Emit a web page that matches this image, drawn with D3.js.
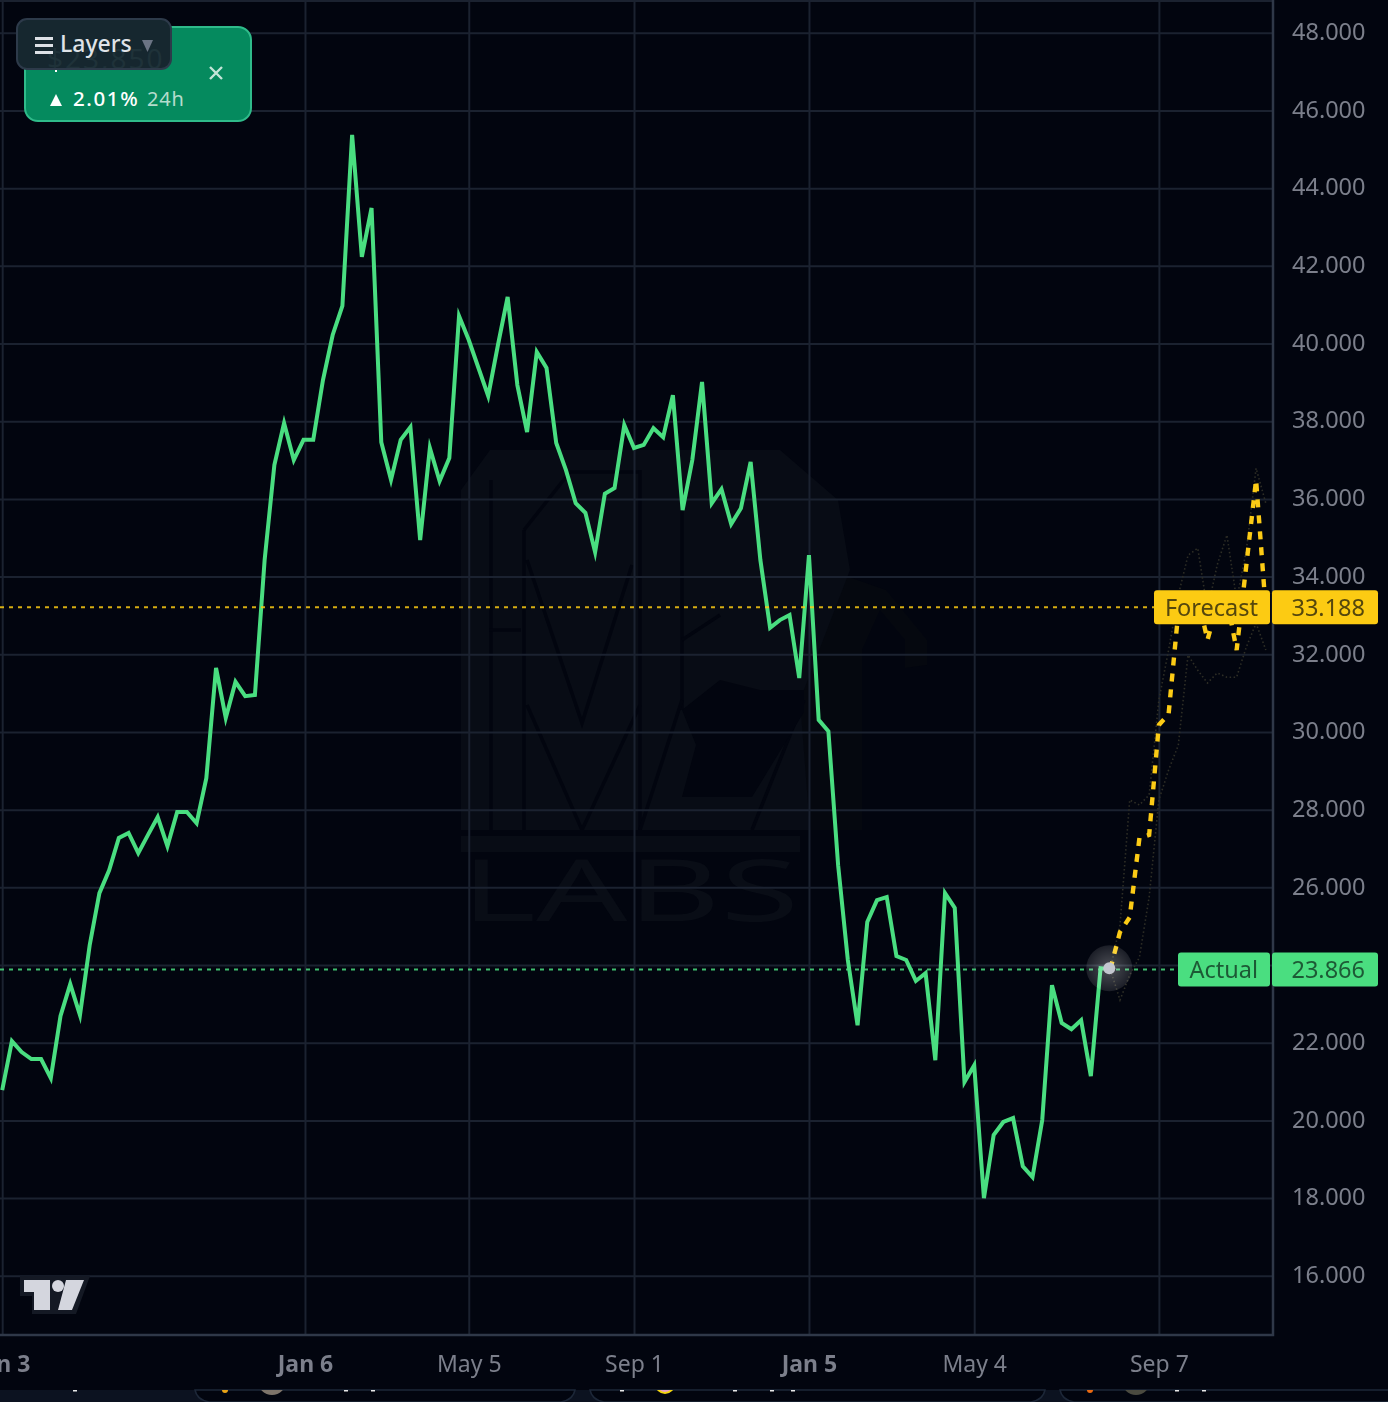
<!DOCTYPE html>
<html><head><meta charset="utf-8">
<script src="https://cdn.jsdelivr.net/npm/d3@7"></script>
<style>
html,body{margin:0;padding:0;background:#02050f;overflow:hidden}
svg{display:block}
text{font-family:"Noto Sans",sans-serif}
</style></head><body>
<svg id="c" width="1388" height="1402"></svg>
<script>
const actual=[20.76,22.02,21.74,21.56,21.56,21.07,22.67,23.49,22.69,24.49,25.83,26.42,27.25,27.38,26.86,27.33,27.79,27.04,27.92,27.92,27.63,28.79,31.63,30.34,31.27,30.90,30.93,34.41,36.85,37.93,36.98,37.50,37.50,39.04,40.20,40.95,45.35,42.21,43.47,37.44,36.47,37.50,37.83,34.92,37.29,36.44,37.03,40.69,40.07,39.35,38.63,39.94,41.18,38.91,37.70,39.76,39.35,37.42,36.72,35.87,35.62,34.61,36.11,36.26,37.88,37.29,37.37,37.80,37.57,38.65,35.69,36.98,38.99,35.87,36.23,35.33,35.74,36.93,34.41,32.66,32.86,32.99,31.37,34.53,30.29,30.00,26.55,24.11,22.43,25.09,25.65,25.73,24.21,24.11,23.57,23.77,21.53,25.83,25.45,20.97,21.40,17.98,19.60,19.94,20.04,18.80,18.52,19.99,23.46,22.49,22.33,22.56,21.12,23.90,23.87];
const forecast=[23.87,24.83,25.21,27.25,27.33,30.16,30.44,33.07,33.50,33.45,32.35,33.25,33.38,32.09,34.28,36.47,33.12];
const upperBand=[23.87,25.01,28.23,28.10,28.36,30.80,32.09,33.50,34.53,34.71,33.12,34.28,35.05,33.38,34.66,36.77,35.87];
const lowerBand=[23.87,23.08,23.72,24.18,25.73,28.23,29.00,29.64,31.96,31.57,31.24,31.50,31.39,31.39,32.17,32.78,32.09];
const priceTicks=[16,18,20,22,24,26,28,30,32,34,36,38,40,42,44,46,48];
const timeTickWeeks=[0,31.15,48,65,83,100,119];
const timeTickLabels=["Jan 3","Jan 6","May 5","Sep 1","Jan 5","May 4","Sep 7"];
const boldTicks=["Jan 3","Jan 6","Jan 5"];
const forecastPrice=33.188, actualPrice=23.866;
const forecastStart=actual.length-1;

const svg=d3.select("#c");
const x=d3.scaleLinear().domain([0,130]).range([2.2,1265.8]);
const y=d3.scaleLinear().domain([16,48]).range([1275,32]);
const axisX=1273, axisY=1335;
const GRID="#1b2230", AXIS="#2f3848", TICK="#7b7f8b";
const GREEN="#4ade80", YELLOW="#fccb13";

svg.append("rect").attr("width",1388).attr("height",1402).attr("fill","#02050f");
const defs=svg.append("defs");
defs.append("filter").attr("id","soft").append("feGaussianBlur").attr("stdDeviation",0.45);
defs.append("filter").attr("id","softline").attr("filterUnits","userSpaceOnUse").attr("x",0).attr("y",0).attr("width",1388).attr("height",1402)
  .append("feGaussianBlur").attr("stdDeviation",0.5);
const rg=defs.append("radialGradient").attr("id","halo");
rg.append("stop").attr("offset","0%").attr("stop-color","#fff").attr("stop-opacity",.3);
rg.append("stop").attr("offset","100%").attr("stop-color","#fff").attr("stop-opacity",.1);
defs.append("clipPath").attr("id","below").append("rect").attr("x",0).attr("y",1390).attr("width",1388).attr("height",12);
defs.append("clipPath").attr("id","inbtn").append("rect").attr("x",17).attr("y",19).attr("width",154).attr("height",50).attr("rx",10);

// watermark
const wm=svg.append("g");
const W="#080c15", DIM="#05080f";
wm.append("path").attr("fill",DIM).attr("d","M800 560L886 590L927 640V665L905 668L905 640L880 610L862 650L862 830H800Z");
wm.append("path").attr("fill",W).attr("d","M461 830V490L490 450H640L780 450L838 500L850 570L800 700L810 830Z");
const wmLines=["M491 480V830","M524 530V830","M489 630H521","M527 560L582 723L632 565","M527 705L582 830L640 705","M524 530L570 472H640","M640 470V830","M682 500V710","M640 830L682 700","M682 640L720 615","M752 830L804 700"];
wmLines.forEach(d=>wm.append("path").attr("d",d).attr("fill","none").attr("stroke","#02050f").attr("stroke-width",3.5));
wm.append("path").attr("fill","#02050f").attr("d","M682 710L696 745L682 797H752L804 712V690L760 690L720 680Z");
wm.append("path").attr("fill","#02050f").attr("d","M455 830H810V836H455Z");
wm.append("path").attr("fill",W).attr("d","M461 836H800V852H461Z");
wm.append("text").attr("x",461).attr("y",921).attr("font-size",86).attr("font-weight",400).attr("textLength",338).attr("lengthAdjust","spacingAndGlyphs").attr("fill","#090d16").text("LABS");

// grid + axes through d3-axis
const gy=svg.append("g").attr("transform",`translate(${axisX},0)`)
  .call(d3.axisRight(y).tickValues(priceTicks).tickFormat(d3.format(".3f")).tickSize(0).tickPadding(19));
gy.select(".domain").remove();
gy.selectAll("text").attr("font-size",23.5).attr("fill",TICK).attr("filter","url(#soft)");
const gridY=svg.append("g").attr("transform",`translate(${axisX},0.8)`)
  .call(d3.axisLeft(y).tickValues(priceTicks).tickSize(axisX).tickFormat(""));
gridY.select(".domain").remove();
gridY.selectAll("line").attr("stroke",GRID).attr("stroke-width",2);
svg.append("line").attr("x1",0).attr("x2",axisX).attr("y1",1).attr("y2",1).attr("stroke",GRID).attr("stroke-width",2);

const gridX=svg.append("g").attr("transform",`translate(0,${axisY})`)
  .call(d3.axisTop(x).tickValues(timeTickWeeks).tickSize(axisY).tickFormat(""));
gridX.select(".domain").remove();
gridX.selectAll("line").attr("stroke",GRID).attr("stroke-width",2);
const gx=svg.append("g").attr("transform",`translate(0,${axisY})`)
  .call(d3.axisBottom(x).tickValues(timeTickWeeks).tickSize(0).tickPadding(21).tickFormat((d,i)=>timeTickLabels[i]));
gx.select(".domain").remove();
gx.selectAll("text").attr("font-size",23).attr("fill",TICK).attr("filter","url(#soft)")
  .attr("font-weight",(d,i)=>boldTicks.includes(timeTickLabels[i])?700:400);
svg.append("path").attr("fill","none").attr("stroke",AXIS).attr("stroke-width",2.5)
  .attr("d",`M0 ${axisY}H${axisX}V0`);

// series
const ln=d3.line().x(d=>x(d.i)).y(d=>y(d.v));
const toPts=(a,s)=>a.map((v,k)=>({i:s+k,v}));
[upperBand,lowerBand].forEach(b=>svg.append("path").datum(toPts(b,forecastStart))
  .attr("fill","none").attr("stroke","#2e2e26").attr("stroke-width",1.6).attr("stroke-dasharray","1.5 2.5").attr("d",ln));
svg.append("path").datum(toPts(actual,0)).attr("fill","none").attr("stroke",GREEN).attr("stroke-width",4)
  .attr("stroke-linejoin","miter").attr("stroke-miterlimit",6).attr("filter","url(#softline)").attr("d",ln);
svg.append("path").datum(toPts(forecast,forecastStart)).attr("fill","none").attr("stroke",YELLOW).attr("stroke-width",4.4)
  .attr("stroke-dasharray","8 8").attr("filter","url(#softline)").attr("d",ln);

// price lines
svg.append("line").attr("x1",0).attr("x2",1154).attr("y1",y(forecastPrice)).attr("y2",y(forecastPrice))
  .attr("stroke",YELLOW).attr("stroke-width",2).attr("stroke-dasharray","4 5").attr("stroke-opacity",.85);
svg.append("line").attr("x1",0).attr("x2",1178).attr("y1",y(actualPrice)).attr("y2",y(actualPrice))
  .attr("stroke",GREEN).attr("stroke-width",2).attr("stroke-dasharray","4 5").attr("stroke-opacity",.85);

// current point
const lastX=x(forecastStart), lastY=y(actual[forecastStart]);
svg.append("circle").attr("cx",lastX-1).attr("cy",lastY-1).attr("r",23).attr("fill","url(#halo)");
svg.append("circle").attr("cx",lastX-1).attr("cy",lastY-1).attr("r",6).attr("fill","#c3c6cf");

// price labels
function tag(x0,x1,yc,fill,txt,anchorX,ink){
  svg.append("rect").attr("x",x0).attr("y",yc-17).attr("width",x1-x0).attr("height",34).attr("rx",3).attr("fill",fill);
  svg.append("text").attr("x",anchorX).attr("y",yc+8.5).attr("text-anchor","end").attr("font-size",23.5)
    .attr("fill",ink).attr("filter","url(#soft)").text(txt);
}
tag(1154,1270,y(forecastPrice),YELLOW,"Forecast",1258,"#54460a");
tag(1272,1378,y(forecastPrice),YELLOW,d3.format(".3f")(forecastPrice),1365,"#54460a");
tag(1178,1270,y(actualPrice),GREEN,"Actual",1258,"#1e5a36");
tag(1272,1378,y(actualPrice),GREEN,d3.format(".3f")(actualPrice),1365,"#1e5a36");

// ticker card
svg.append("rect").attr("x",25).attr("y",27).attr("width",226).attr("height",94).attr("rx",13)
  .attr("fill","#058a5e").attr("stroke","#2fbb8a").attr("stroke-width",2);
svg.append("path").attr("d","M50 106L56 94L62 106Z").attr("fill","#fff");
svg.append("text").attr("x",73).attr("y",106).attr("font-size",20.5).attr("font-weight",500).attr("letter-spacing",1.6).attr("fill","#fff").text("2.01%");
svg.append("text").attr("x",147).attr("y",106).attr("font-size",20).attr("letter-spacing",.8).attr("fill","#b4dccd").text("24h");
svg.append("path").attr("d","M210 67L222 79M222 67L210 79").attr("stroke","#c3e5d8").attr("stroke-width",2.4).attr("fill","none");
svg.append("rect").attr("x",55).attr("y",66).attr("width",2).attr("height",6).attr("fill","#fff");

// layers button
svg.append("rect").attr("x",17).attr("y",19).attr("width",154).attr("height",50).attr("rx",10).attr("fill","#16272f");
svg.append("g").attr("clip-path","url(#inbtn)").append("text").attr("x",47).attr("y",69).attr("font-size",28)
  .attr("letter-spacing",2).attr("fill","#1f3239").text("$23,850");
svg.append("rect").attr("x",17).attr("y",19).attr("width",154).attr("height",50).attr("rx",10)
  .attr("fill","none").attr("stroke","#2d3a4a").attr("stroke-width",2);
[37,44,51].forEach(v=>svg.append("rect").attr("x",35).attr("y",v).attr("width",18).attr("height",3).attr("fill","#dde1e6"));
svg.append("text").attr("x",60).attr("y",52).attr("font-size",23).attr("font-weight",500).attr("fill","#dfe3e8").text("Layers");
svg.append("path").attr("d","M142 40H153L147.5 52Z").attr("fill","#6b7484");

// logo
svg.append("path").attr("fill","#141924").attr("d","M20 1276H90L76 1314H32V1296H20Z");
svg.append("path").attr("fill","#d4d6de").attr("d","M24 1280H50V1310H34V1292H24Z");
svg.append("circle").attr("cx",58).attr("cy",1286).attr("r",6).attr("fill","#d4d6de");
svg.append("path").attr("fill","#d4d6de").attr("d","M66 1280H84L72 1310H58Z");

// page strip below the chart
const strip=svg.append("g");
strip.append("rect").attr("x",0).attr("y",1390).attr("width",1388).attr("height",12).attr("fill","#0c1220");
[[195,575],[590,1045],[1060,1400]].forEach(([a,b])=>{
  strip.append("path").attr("fill","#02050f").attr("stroke","#1d2738").attr("stroke-width",1.5)
   .attr("d",`M${a} 1390Q${a+2} 1400 ${a+14} 1402H${b-14}Q${b-2} 1400 ${b} 1390Z`);
});
[[225,"#e8a317",3],[272,"#7d746a",14],[665,"#f3d60f",10],[1090,"#ea6a12",3],[1136,"#4a4a40",14]].forEach(([cx,f,r])=>
  strip.append("circle").attr("cx",cx).attr("cy",1390-(r>5?(r>10?9:6):0)).attr("r",r).attr("fill",f)
    .attr("clip-path","url(#below)"));
strip.append("circle").attr("cx",665).attr("cy",1384).attr("r",8).attr("fill","#e8a0c0").attr("clip-path","url(#below)");
[73,344,371,620,733,770,791,1175,1202].forEach(cx=>strip.append("rect").attr("x",cx).attr("y",1390).attr("width",4).attr("height",1.5).attr("fill","#e8e8e8"));
</script>
</body></html>
